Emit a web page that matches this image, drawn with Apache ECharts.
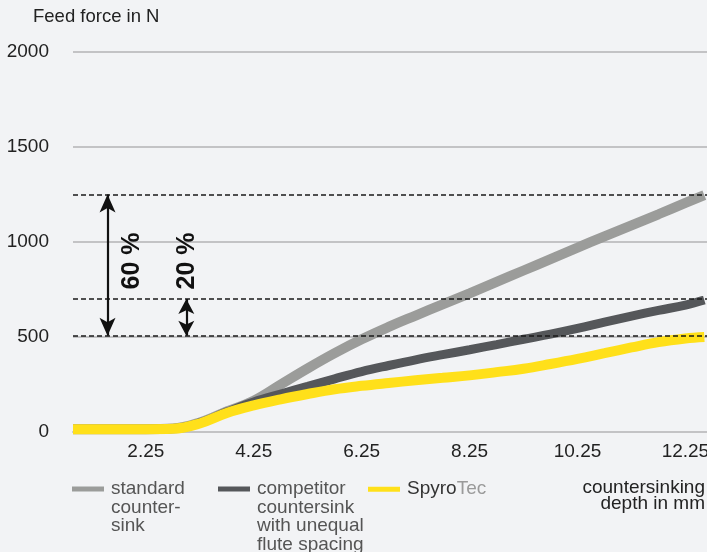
<!DOCTYPE html>
<html>
<head>
<meta charset="utf-8">
<script src="https://cdn.jsdelivr.net/npm/echarts@6/dist/echarts.min.js"></script>
<style>
html,body{margin:0;padding:0;background:#f2f3f5;}
#chart{width:707px;height:552px;}
</style>
</head>
<body>
<div id="chart"></div>
<script>
// ---- data ----
const depth = [0.9, 1.5, 2.25, 2.75, 3.25, 3.75, 4.25, 4.75, 5.25, 5.75, 6.25, 6.75, 7.25, 7.75, 8.25, 8.75, 9.25, 9.75, 10.25, 10.75, 11.25, 11.75, 12.25, 12.6];
const standardForce   = [15, 15, 15, 18, 50, 108, 165, 250, 335, 415, 488, 553, 613, 672, 730, 790, 850, 910, 970, 1030, 1088, 1146, 1206, 1247];
const competitorForce = [15, 15, 15, 18, 48, 105, 158, 200, 240, 280, 318, 350, 380, 407, 433, 460, 488, 515, 545, 578, 610, 640, 668, 695];
const spyrotecForce   = [15, 15, 15, 17, 45, 100, 140, 172, 200, 225, 243, 258, 272, 285, 298, 315, 333, 358, 385, 415, 445, 473, 492, 500];
const xTickLabels = [2.25, 4.25, 6.25, 8.25, 10.25, 12.25];
const xAxisTitleLines = ['countersinking', 'depth in mm'];
const yAxisTitle = 'Feed force in N';
const seriesNames = ['standard countersink', 'competitor countersink with unequal flute spacing', 'SpyroTec'];
const legendLabels = ['standard\ncounter-\nsink', 'competitor\ncountersink\nwith unequal\nflute spacing', '{a|Spyro}{b|Tec}'];
const referenceLevels = [1250, 700, 507];
const arrow60 = {x: 1.54, from: 1250, to: 507, label: '60 %', labelX: 2.0, labelY: 900};
const arrow20 = {x: 3.0, from: 700, to: 507, label: '20 %', labelX: 3.02, labelY: 900};

const colors = ['#9b9c9a', '#55575a', '#ffe01a'];
const FONT = '"Liberation Sans", Arial, Helvetica, sans-serif';

function pairs(ys) { return depth.map((x, i) => [x, ys[i]]); }

const LH = 18.5, ICON_Y = 489;
const legendLefts = [72, 218, 368];
function makeLegend(i) {
  const n = legendLabels[i].split('\n').length;
  return {
    data: [seriesNames[i]],
    left: legendLefts[i],
    top: ICON_Y - (2 * n - 1) * LH / 2,
    padding: 0,
    itemGap: 0,
    icon: 'rect',
    itemWidth: 32,
    itemHeight: 5,
    selectedMode: false,
    formatter: () => legendLabels[i],
    textStyle: {
      fontFamily: FONT, fontSize: 19, lineHeight: LH, color: '#555',
      padding: [(n - 1) * LH, 0, 0, 2],
      rich: {
        a: {fontFamily: FONT, fontSize: 19, color: '#333', lineHeight: LH},
        b: {fontFamily: FONT, fontSize: 19, color: '#9a9a9a', lineHeight: LH}
      }
    }
  };
}

const chart = echarts.init(document.getElementById('chart'));
chart.setOption({
  backgroundColor: '#f2f3f5',
  animation: false,
  title: {
    text: yAxisTitle,
    left: 33, top: 7, padding: 0,
    textStyle: {fontFamily: FONT, fontSize: 18.5, fontWeight: 'normal', color: '#222', lineHeight: 20}
  },
  graphic: xAxisTitleLines.map((t, i) => ({
    type: 'text', right: 2, top: 478 + i * 16,
    style: {text: t, fontFamily: FONT, fontSize: 19, fill: '#222'}
  })),
  legend: [makeLegend(0), makeLegend(1), makeLegend(2)],
  grid: {left: 73, right: 0, top: 52, bottom: 120, containLabel: false, outerBoundsMode: 'none'},
  xAxis: {
    type: 'value', min: 0.9, max: 12.65,
    axisLine: {show: true, onZero: false, lineStyle: {color: '#c3c3c5', width: 2}},
    axisTick: {show: false},
    splitLine: {show: false},
    axisLabel: {
      customValues: xTickLabels,
      formatter: v => v.toFixed(2),
      fontFamily: FONT, fontSize: 19, color: '#222', margin: 10
    }
  },
  yAxis: {
    type: 'value', min: 0, max: 2000, interval: 500,
    axisLine: {show: false}, axisTick: {show: false},
    axisLabel: {fontFamily: FONT, fontSize: 19, color: '#222', margin: 24, formatter: v => String(v)},
    splitLine: {show: true, lineStyle: {color: '#c3c3c5', width: 2}}
  },
  series: [
    {
      name: 'annotations', type: 'line', data: [], z: 1, silent: true,
      markLine: {
        silent: true, symbol: ['none', 'none'], animation: false,
        label: {show: false},
        lineStyle: {color: '#1a1a1a', type: [5, 3], width: 1.6},
        data: referenceLevels.map(v => ({yAxis: v}))
          .concat([
            [{coord: [arrow60.x, arrow60.from], symbol: 'arrow', symbolSize: [12, 18]},
             {coord: [arrow60.x, arrow60.to], symbol: 'arrow', symbolSize: [12, 18], lineStyle: {type: 'solid', width: 2.2, color: '#111'}}],
            [{coord: [arrow20.x, arrow20.from], symbol: 'arrow', symbolSize: [12, 15]},
             {coord: [arrow20.x, arrow20.to], symbol: 'arrow', symbolSize: [12, 15], lineStyle: {type: 'solid', width: 2.2, color: '#111'}}]
          ])
      },
      markPoint: {
        silent: true, symbol: 'circle', symbolSize: 1,
        itemStyle: {color: 'rgba(0,0,0,0)'},
        label: {show: true, position: 'inside', rotate: 90, fontFamily: FONT, fontSize: 25, fontWeight: 'bold', color: '#111', formatter: p => p.name},
        data: [
          {name: arrow60.label, coord: [arrow60.labelX, arrow60.labelY]},
          {name: arrow20.label, coord: [arrow20.labelX, arrow20.labelY]}
        ]
      }
    },
    {
      name: seriesNames[0], type: 'line', data: pairs(standardForce), smooth: 0.4, showSymbol: false, z: 2,
      itemStyle: {color: colors[0]}, lineStyle: {color: colors[0], width: 10, cap: 'butt'}
    },
    {
      name: seriesNames[1], type: 'line', data: pairs(competitorForce), smooth: 0.4, showSymbol: false, z: 3,
      itemStyle: {color: colors[1]}, lineStyle: {color: colors[1], width: 9, cap: 'butt'}
    },
    {
      name: seriesNames[2], type: 'line', data: pairs(spyrotecForce), smooth: 0.4, showSymbol: false, z: 4,
      itemStyle: {color: colors[2]}, lineStyle: {color: colors[2], width: 10, cap: 'butt'}
    }
  ]
});
</script>
</body>
</html>
